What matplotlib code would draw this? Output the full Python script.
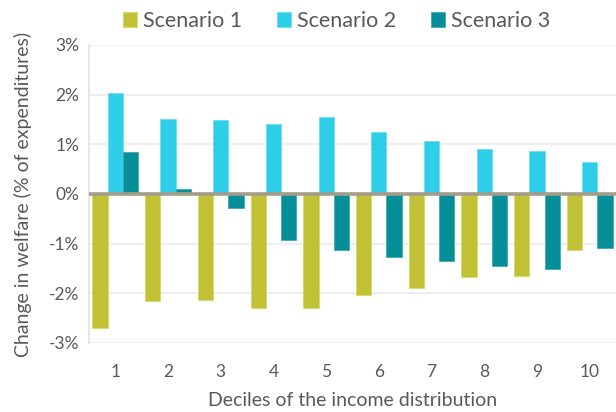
import numpy as np
import matplotlib
matplotlib.use("Agg")
import matplotlib.pyplot as plt
from matplotlib.ticker import FuncFormatter

plt.rcParams['font.family'] = ['Lato', 'DejaVu Sans']

deciles = ['1', '2', '3', '4', '5', '6', '7', '8', '9', '10']
scenario1 = [-2.70, -2.15, -2.13, -2.29, -2.29, -2.03, -1.89, -1.67, -1.66, -1.12]
scenario2 = [2.03, 1.51, 1.49, 1.41, 1.55, 1.25, 1.07, 0.91, 0.87, 0.65]
scenario3 = [0.85, 0.10, -0.28, -0.93, -1.13, -1.27, -1.35, -1.45, -1.52, -1.09]
names = ['Scenario 1', 'Scenario 2', 'Scenario 3']
colors = ['#C2C236', '#2ECDE8', '#068F99']
edges = ['#D8D86A', '#6FDDF0', '#3FAAB2']

text_col = '#595959'

fig = plt.figure(figsize=(6.16, 4.12), dpi=100)
ax = fig.add_axes([0.1445, 0.1675, 0.8555, 0.7233])

x = np.arange(len(deciles))
w = 0.29
for i, (vals, name) in enumerate(zip([scenario1, scenario2, scenario3], names)):
    ax.bar(x + (i - 1) * w, vals, width=w, color=colors[i], edgecolor=edges[i],
           linewidth=0.6, label=name, zorder=3)

ax.axhline(0, color='#A39D8A', linewidth=2.6, zorder=4)

ax.set_xlim(-0.5, len(deciles) - 0.5)
ax.set_ylim(-3, 3)
ax.set_yticks(np.arange(-3, 4, 1))
ax.yaxis.set_major_formatter(FuncFormatter(lambda v, p: f'{v:.0f}%'))
ax.set_xticks(x)
ax.set_xticklabels(deciles)
ax.grid(axis='y', color='#EBEBEB', linewidth=1.2, zorder=0)
ax.tick_params(length=0, labelsize=12.5, colors=text_col, pad=7)
ax.tick_params(axis='x', pad=15)
for s in ['top', 'right', 'bottom']:
    ax.spines[s].set_visible(False)
ax.spines['left'].set_color('#E3E3E3')
ax.spines['left'].set_linewidth(1.2)

ax.set_xlabel('Deciles of the income distribution', fontsize=14, color=text_col, labelpad=9)
ax.set_ylabel('Change in welfare (% of expenditures)', fontsize=14, color=text_col, labelpad=12)

ax.legend(loc='lower center', bbox_to_anchor=(0.47, 1.0), ncol=3, frameon=False,
          fontsize=15.5, labelcolor=text_col, handlelength=0.65, handleheight=0.65,
          handletextpad=0.3, columnspacing=1.6, borderaxespad=0.25)

fig.savefig('out.png', dpi=100)
